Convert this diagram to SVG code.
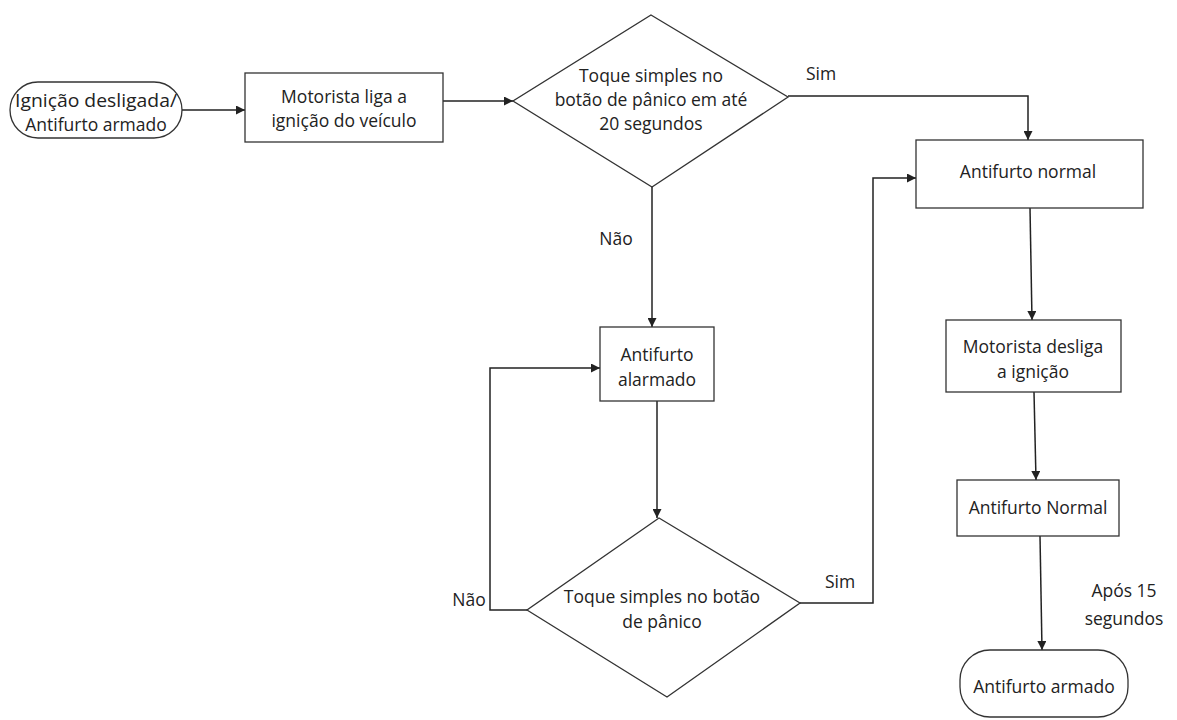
<svg xmlns="http://www.w3.org/2000/svg" width="1177" height="720" viewBox="0 0 1177 720">
<style>
.shape{fill:#fff;stroke:#333;stroke-width:1.3}
.edge{fill:none;stroke:#222;stroke-width:1.5}
text{font-family:"Open Sans","Liberation Sans",sans-serif;font-size:17.5px;fill:#222;text-anchor:middle}
</style>
<defs>
<marker id="arr" viewBox="0 0 10 10" refX="10" refY="5" markerWidth="9" markerHeight="9" markerUnits="userSpaceOnUse" orient="auto">
<path d="M0,0 L10,5 L0,10 z" fill="#222"/>
</marker>
</defs>
<rect width="1177" height="720" fill="#fff"/>
<g id="connectors">
<path class="edge" d="M182,110 L245,110" marker-end="url(#arr)"/>
<path class="edge" d="M443,101 L513,101" marker-end="url(#arr)"/>
<path class="edge" d="M788,96 L1028,96 L1028,140" marker-end="url(#arr)"/>
<path class="edge" d="M652,187 L652,327" marker-end="url(#arr)"/>
<path class="edge" d="M657,401 L657,518" marker-end="url(#arr)"/>
<path class="edge" d="M527,610 L490,610 L490,368 L600,368" marker-end="url(#arr)"/>
<path class="edge" d="M800,603 L873,603 L873,178 L916,178" marker-end="url(#arr)"/>
<path class="edge" d="M1030,208 L1032,320" marker-end="url(#arr)"/>
<path class="edge" d="M1034,392 L1036,480" marker-end="url(#arr)"/>
<path class="edge" d="M1040,536 L1042,650" marker-end="url(#arr)"/>
<text x="821" y="80">Sim</text>
<text x="616" y="245">Não</text>
<text x="469" y="606">Não</text>
<text x="840" y="588">Sim</text>
<text x="1124" y="597">Após 15</text>
<text x="1124" y="625">segundos</text>
</g>
<g id="start">
<rect class="shape" x="10" y="82" width="172" height="56" rx="28"/>
<text x="96" y="107" textLength="162" lengthAdjust="spacingAndGlyphs">Ignição desligada/</text>
<text x="96" y="131">Antifurto armado</text>
</g>
<g id="liga">
<rect class="shape" x="245" y="73" width="198" height="69"/>
<text x="344" y="103">Motorista liga a</text>
<text x="344" y="127">ignição do veículo</text>
</g>
<g id="dec1">
<polygon class="shape" points="651,15 788,97 652,187 513,101"/>
<text x="651" y="82">Toque simples no</text>
<text x="651" y="106">botão de pânico em até</text>
<text x="651" y="130">20 segundos</text>
</g>
<g id="normal1">
<rect class="shape" x="916" y="140" width="227" height="68"/>
<text x="1028" y="178">Antifurto normal</text>
</g>
<g id="alarmado">
<rect class="shape" x="600" y="327" width="114" height="74"/>
<text x="657" y="361">Antifurto</text>
<text x="657" y="386">alarmado</text>
</g>
<g id="dec2">
<polygon class="shape" points="659,518 800,603 667,697 527,610"/>
<text x="662" y="603">Toque simples no botão</text>
<text x="662" y="628">de pânico</text>
</g>
<g id="desliga">
<rect class="shape" x="946" y="320" width="175" height="72"/>
<text x="1033" y="353">Motorista desliga</text>
<text x="1033" y="378">a ignição</text>
</g>
<g id="normal2">
<rect class="shape" x="957" y="480" width="162" height="56"/>
<text x="1038" y="514">Antifurto Normal</text>
</g>
<g id="armado">
<rect class="shape" x="960" y="650" width="168" height="67" rx="30"/>
<text x="1044" y="693">Antifurto armado</text>
</g>
</svg>
